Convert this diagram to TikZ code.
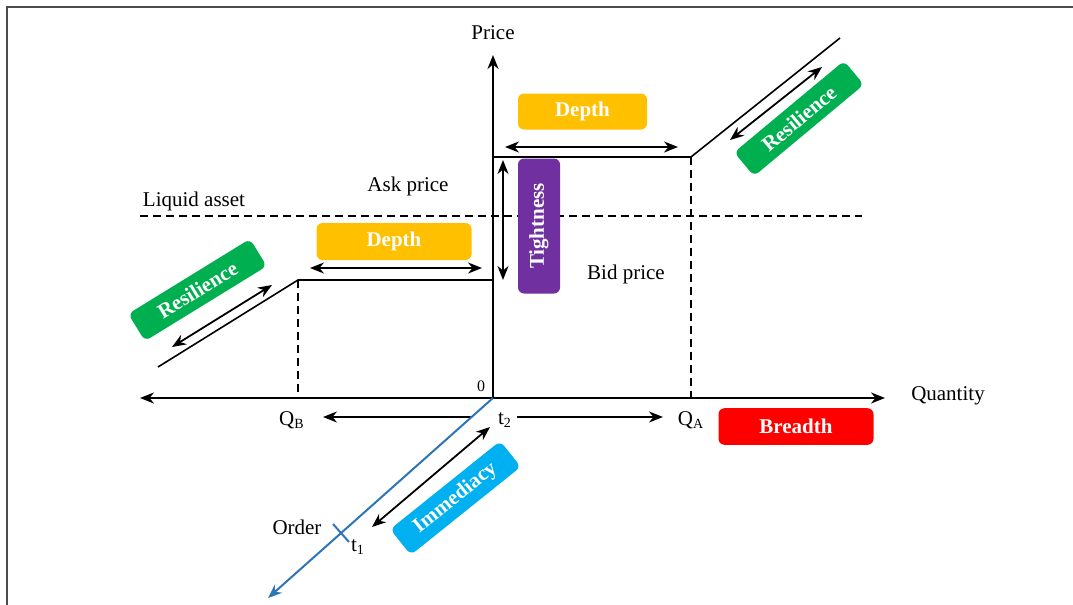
\documentclass[tikz,border=0pt]{standalone}
\usepackage{fontspec}
\setmainfont{Liberation Serif}
\usetikzlibrary{positioning, arrows.meta}

\definecolor{depthorange}{HTML}{FFC000}
\definecolor{tightpurple}{HTML}{7030A0}
\definecolor{resgreen}{HTML}{00B050}
\definecolor{breadthred}{HTML}{FF0000}
\definecolor{immcyan}{HTML}{00B0F0}
\definecolor{orderblue}{HTML}{2E75B6}

\begin{document}
\begin{tikzpicture}[
  x=0.5pt, y=-0.5pt,
  font=\fontsize{10.5}{12}\selectfont,
  >={Stealth[length=7pt, width=5.5pt]},
  axis/.style={line width=1pt},
  curve/.style={line width=0.8pt},
  guide/.style={line width=0.8pt, dash pattern=on 4pt off 2.5pt},
  span/.style={<->, line width=0.9pt},
  tag/.style={rounded corners=3pt, inner sep=0pt, text=white,
              font=\fontsize{10.5}{12}\selectfont\bfseries},
]
  \useasboundingbox (0,0) rectangle (1073,605);

  % Frame
  \draw[line width=0.9pt, gray!60!black] (7,605) -- (7,7) -- (1073,7);

  % Axes
  \coordinate (O) at (493,398);
  \coordinate (qmin) at (140,398);
  \coordinate (qmax) at (885,398);
  \coordinate (pmax) at (493,55);
  \draw[axis, <->] (qmin) -- (qmax);
  \draw[axis, ->] (O) -- (pmax);

  \node (price) at (493,33) {Price};
  \node (quantity) at (948,396) {Quantity};
  \node[font=\footnotesize] (zero) at (481,386) {0};

  % Liquid asset level
  \draw[guide] (140,216) -- (862,216);
  \node (liquid) at (194,201) {Liquid asset};
  \node (ask) at (408,186) {Ask price};
  \node (bid) at (626,274) {Bid price};

  % Ask side
  \coordinate (askA) at (493,157);
  \coordinate (QA) at (691,157);
  \coordinate (askEnd) at (840,38);
  \draw[curve] (askA) -- (QA) -- (askEnd);
  \draw[guide] (QA) -- (691,398);

  % Bid side
  \coordinate (bidB) at (493,280);
  \coordinate (QB) at (298,280);
  \coordinate (bidEnd) at (158,367);
  \draw[curve] (bidB) -- (QB) -- (bidEnd);
  \draw[guide] (QB) -- (298,398);

  % Quantity labels
  \node (qb) at (292,420) {Q\textsubscript{\scriptsize B}};
  \node (qa) at (691,420) {Q\textsubscript{\scriptsize A}};
  \node (t2) at (505,420) {t\textsubscript{\scriptsize 2}};

  % Breadth arrows
  \coordinate (brL) at (323,417);
  \coordinate (brLs) at (472,417);
  \coordinate (brR) at (663,417);
  \coordinate (brRs) at (517,417);
  \draw[->, line width=0.9pt] (brLs) -- (brL);
  \draw[->, line width=0.9pt] (brRs) -- (brR);

  % Depth
  \node[tag, fill=depthorange, minimum width=64.5pt, minimum height=18pt]
    (depthA) at (582.5,111.5) {Depth};
  \node[tag, fill=depthorange, minimum width=77.5pt, minimum height=18.5pt]
    (depthB) at (394,241.5) {Depth};
  \draw[span] (505,147) -- (678,147);
  \draw[span] (310,268) -- (482,268);

  % Tightness
  \node[tag, fill=tightpurple, minimum width=67.5pt, minimum height=21pt, rotate=90]
    (tight) at (539,226) {Tightness};
  \draw[span] (503,160) -- (503,280);

  % Breadth
  \node[tag, fill=breadthred, minimum width=77.5pt, minimum height=18.3pt]
    (breadth) at (796,426.5) {Breadth};

  % Resilience
  \node[tag, fill=resgreen, minimum width=71.5pt, minimum height=16pt, rotate=31.6]
    (resB) at (197.5,290) {Resilience};
  \node[tag, fill=resgreen, minimum width=71.5pt, minimum height=15.5pt, rotate=39.8]
    (resA) at (799,118.5) {Resilience};
  \draw[span] (172,347) -- (272,285);
  \draw[span] (730,140) -- (822,67);

  % Order flow and immediacy
  \coordinate (orderEnd) at (268,598);
  \draw[orderblue, line width=1pt, ->] (O) -- (orderEnd);
  \draw[orderblue, line width=1pt] (333,524) -- (349,542);
  \node (order) at (297,527) {Order};
  \node (t1) at (358,547) {t\textsubscript{\scriptsize 1}};
  \node[tag, fill=immcyan, minimum width=70.5pt, minimum height=16.5pt, rotate=38.7]
    (imm) at (455.5,498) {Immediacy};
  \draw[span] (372,527) -- (490,427);

\end{tikzpicture}
\end{document}
